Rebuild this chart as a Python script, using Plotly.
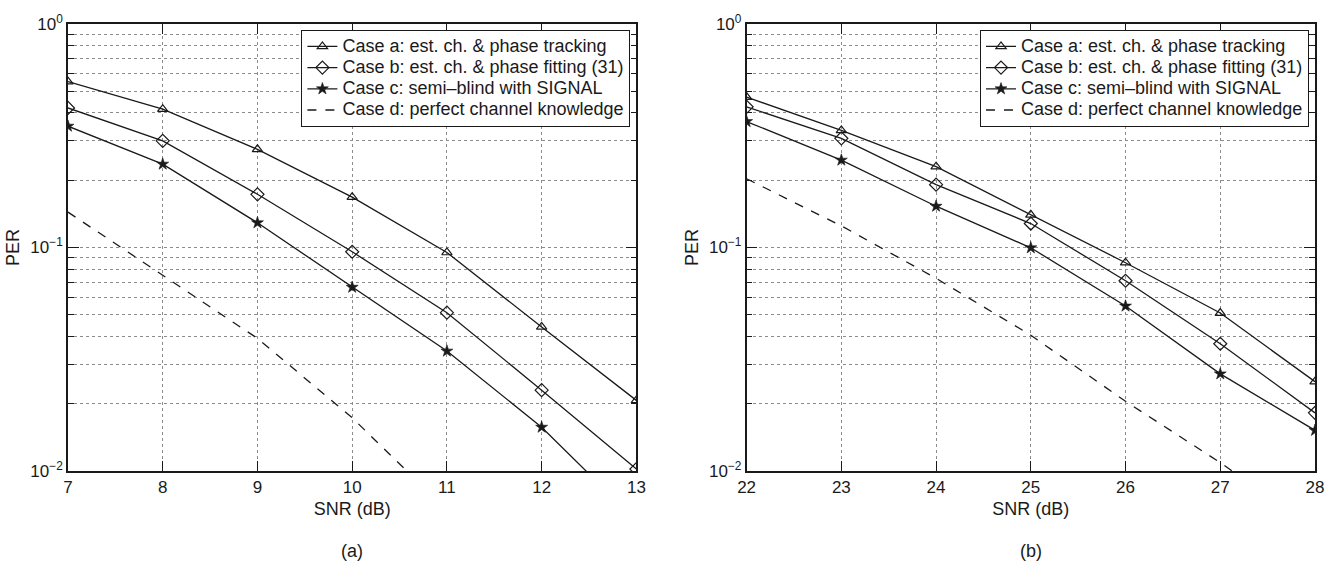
import plotly.graph_objects as go

# SNR grids (dB) for the two panels
snr_a = [7, 8, 9, 10, 11, 12, 13]
snr_b = [22, 23, 24, 25, 26, 27, 28]

# Panel (a): packet error rate per case
per_a_case_a = [0.552, 0.416, 0.275, 0.168, 0.095, 0.0441, 0.0207]
per_a_case_b = [0.421, 0.300, 0.173, 0.0957, 0.0511, 0.0230, 0.0102]
per_a_case_c = [0.349, 0.236, 0.129, 0.0664, 0.0344, 0.0157, 0.0060]
per_a_case_d = [0.144, 0.0754, 0.0392, 0.0173, 0.0066, 0.0026, 0.0010]

# Panel (b): packet error rate per case
per_b_case_a = [0.471, 0.334, 0.230, 0.140, 0.0855, 0.0509, 0.0251]
per_b_case_b = [0.426, 0.308, 0.191, 0.128, 0.0710, 0.0371, 0.0182]
per_b_case_c = [0.366, 0.246, 0.153, 0.0997, 0.0547, 0.0272, 0.0152]
per_b_case_d = [0.203, 0.125, 0.0728, 0.0405, 0.0205, 0.0109, 0.0055]

case_names = [
    "Case a: est. ch. & phase tracking",
    "Case b: est. ch. & phase fitting (31)",
    "Case c: semi\u2013blind with SIGNAL",
    "Case d: perfect channel knowledge",
]

y_tick_vals = [0.01, 0.1, 1]
y_tick_text = ["10<sup>\u22122</sup>", "10<sup>\u22121</sup>", "10<sup>0</sup>"]
panel_labels = ["(a)", "(b)"]

INK = "#1a1a1a"
GRID = "#8c8c8c"
FONT = "Liberation Sans"

styles = [
    dict(marker=dict(symbol="triangle-up-open", size=9, color=INK, line=dict(width=1.2, color=INK)), dash="solid", mode="lines+markers"),
    dict(marker=dict(symbol="diamond-open", size=10, color=INK, line=dict(width=1.2, color=INK)), dash="solid", mode="lines+markers"),
    dict(marker=dict(symbol="star", size=9, color=INK, line=dict(width=0.6, color=INK)), dash="solid", mode="lines+markers"),
    dict(marker=dict(size=1), dash="dash", mode="lines"),
]

fig = go.Figure()

panels = [
    (snr_a, [per_a_case_a, per_a_case_b, per_a_case_c, per_a_case_d], "x", "y", "legend"),
    (snr_b, [per_b_case_a, per_b_case_b, per_b_case_c, per_b_case_d], "x2", "y2", "legend2"),
]

for snr, series, xa, ya, lg in panels:
    for name, vals, st in zip(case_names, series, styles):
        fig.add_trace(go.Scatter(
            x=snr, y=vals,
            # legend rows stay compact while the entry text is drawn at full size
            name='<span style="font-size:18px">' + name + "</span>",
            mode=st["mode"],
            line=dict(color=INK, width=1.3, dash=st["dash"]),
            marker=st["marker"], xaxis=xa, yaxis=ya, legend=lg,
            cliponaxis=True,
        ))

minor_vals = [m * 10 ** e for e in (-2, -1) for m in range(2, 10)]

common_x = dict(
    dtick=1, tick0=0, showline=True, linecolor=INK, linewidth=1.5, mirror="ticks",
    ticks="inside", ticklen=10, tickwidth=1.3, tickcolor=INK,
    showgrid=True, gridcolor=GRID, griddash="dot", gridwidth=1,
    zeroline=False, tickfont=dict(family=FONT, size=17, color=INK),
    title=dict(text="SNR (dB)", font=dict(family=FONT, size=18, color=INK), standoff=6),
)
common_y = dict(
    type="log", range=[-2, 0], tickmode="array", tickvals=y_tick_vals, ticktext=y_tick_text,
    showline=True, linecolor=INK, linewidth=1.5, mirror="ticks",
    ticks="inside", ticklen=11, tickwidth=1.3, tickcolor=INK,
    showgrid=True, gridcolor=GRID, griddash="dot", gridwidth=1,
    minor=dict(tickmode="array", tickvals=minor_vals, ticks="inside", ticklen=6,
               tickwidth=1.2, tickcolor=INK, showgrid=True, gridcolor=GRID,
               griddash="dot", gridwidth=1),
    zeroline=False, tickfont=dict(family=FONT, size=17, color=INK),
    title=dict(text="PER", font=dict(family=FONT, size=18, color=INK), standoff=6),
)

legend_common = dict(
    bgcolor="white", bordercolor=INK, borderwidth=1,
    font=dict(family=FONT, size=14, color=INK),
    xanchor="right", yanchor="top", tracegroupgap=0, itemwidth=30,
)

fig.update_layout(
    width=1336, height=569,
    margin=dict(l=65, r=14, t=21, b=98),
    paper_bgcolor="white", plot_bgcolor="white",
    font=dict(family=FONT, color=INK),
    xaxis=dict(domain=[0, 0.4558], range=[7, 13], anchor="y", **common_x),
    yaxis=dict(domain=[0, 1], anchor="x", **common_y),
    xaxis2=dict(domain=[0.5442, 1], range=[22, 28], anchor="y2", **common_x),
    yaxis2=dict(domain=[0, 1], anchor="x2", **common_y),
    legend=dict(x=0.451, y=0.987, **legend_common),
    legend2=dict(x=0.9952, y=0.987, **legend_common),
    showlegend=True,
)

for label, xc in zip(panel_labels, [0.2279, 0.7721]):
    fig.add_annotation(
        text=label, xref="paper", yref="paper", x=xc, y=-0.18,
        xanchor="center", yanchor="middle", showarrow=False,
        font=dict(family=FONT, size=18, color=INK),
    )

fig.write_html("out.html")
